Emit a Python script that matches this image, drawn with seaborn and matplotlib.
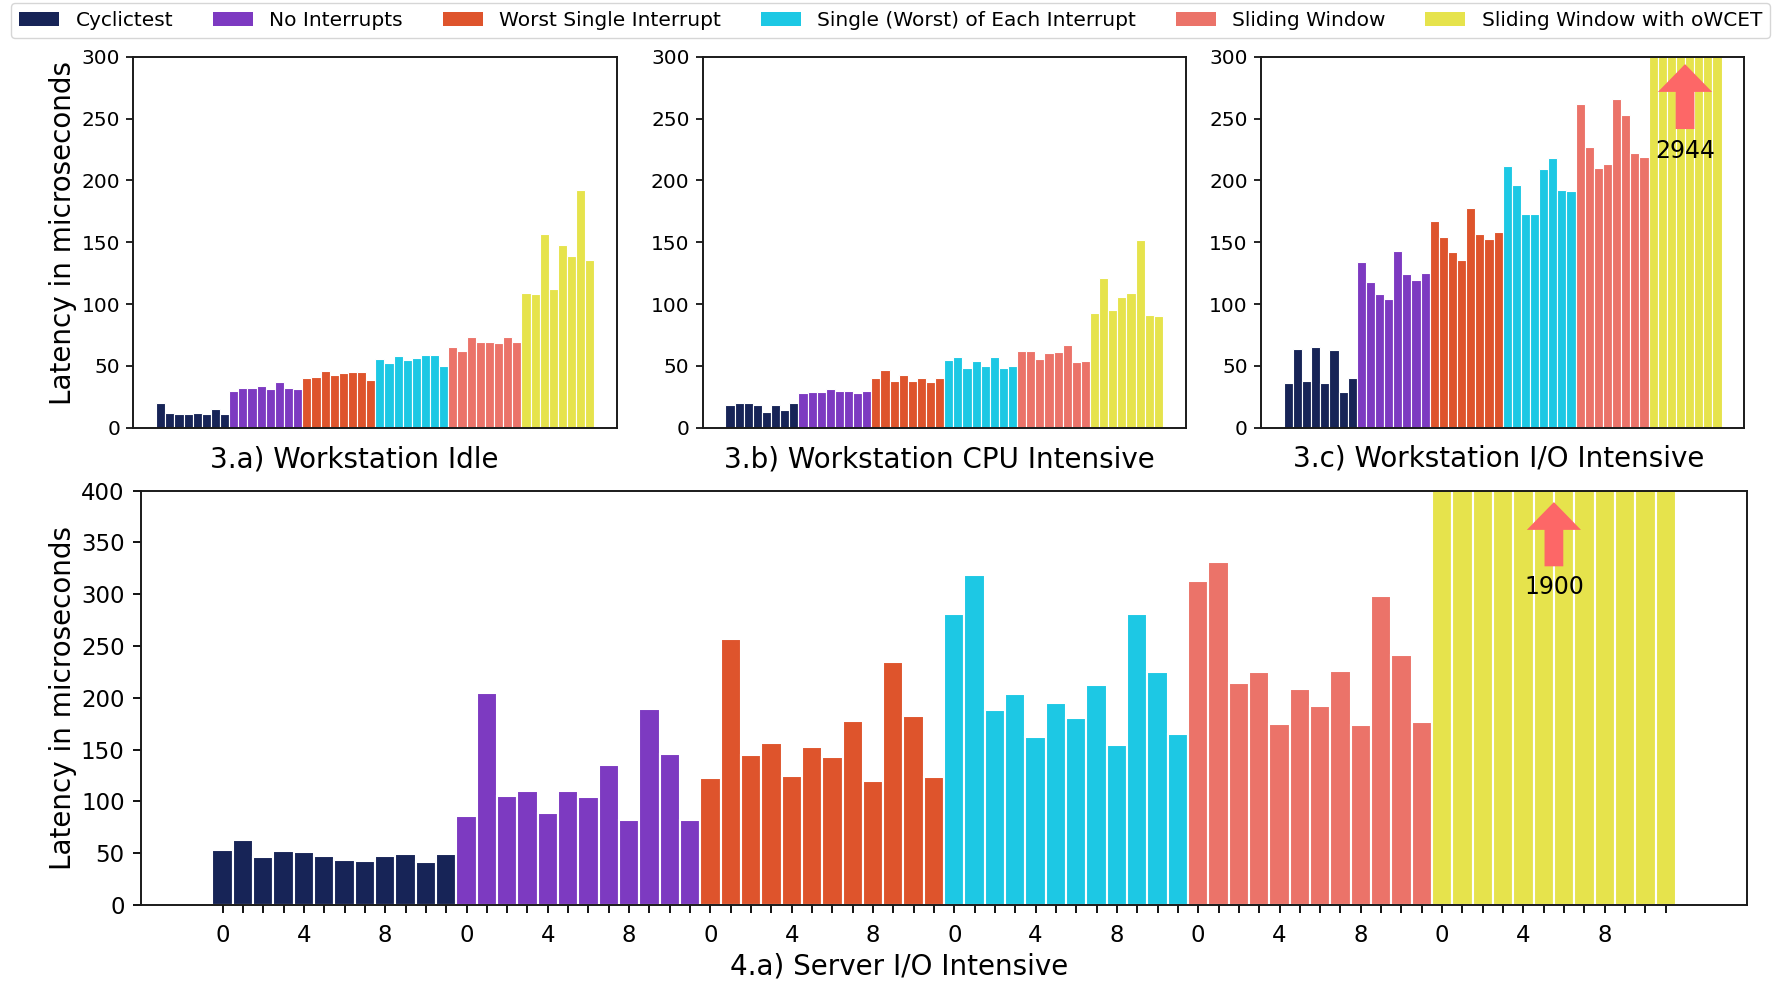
import matplotlib
matplotlib.use("Agg")
import matplotlib.pyplot as plt
import pandas as pd
import seaborn as sns
from matplotlib.patches import Patch

# ---------------- data ----------------
series_names = ["Cyclictest", "No Interrupts", "Worst Single Interrupt",
                "Single (Worst) of Each Interrupt", "Sliding Window",
                "Sliding Window with oWCET"]
series_colors = ["#172457", "#7d3ac1", "#de542c", "#1dc8e4", "#eb7369", "#e6e34c"]

# 3.a) Workstation Idle
idle_cyclictest = [20, 12, 11, 11, 12, 11, 15, 11]
idle_no_int = [30, 32, 32.5, 34, 31.5, 37, 32, 31]
idle_worst_single = [40, 41, 45.5, 42.5, 44, 45, 45, 38.5]
idle_single_each = [55.5, 52, 58, 55, 56.5, 58.5, 59, 49.5]
idle_sliding = [65, 62, 73.5, 69, 69, 68.5, 73, 69.5]
idle_owcet = [109, 108.5, 157, 112.5, 148, 138.5, 192, 136]

# 3.b) Workstation CPU Intensive
cpu_cyclictest = [18, 20, 20, 18.5, 13, 18, 14.5, 20]
cpu_no_int = [28, 28.5, 28.5, 31.5, 29.5, 30, 28, 29.5]
cpu_worst_single = [40.5, 46.5, 38, 42.5, 38, 40, 37, 40]
cpu_single_each = [54.5, 57, 48.5, 54, 50, 57, 48, 50]
cpu_sliding = [62, 62, 55.5, 60, 61, 67, 53, 54]
cpu_owcet = [93, 121, 95, 106, 109, 152, 91, 90]

# 3.c) Workstation I/O Intensive
io_cyclictest = [36.5, 63.5, 37.5, 65.5, 36.5, 63, 28.5, 40]
io_no_int = [134, 117.5, 108, 104, 143, 124, 119.5, 125]
io_worst_single = [167, 154.5, 142, 136, 177.5, 156.5, 152.5, 158]
io_single_each = [212, 196, 173, 173, 209, 218, 192.5, 191]
io_sliding = [261.5, 227, 210, 213, 265.5, 253, 222.5, 219]
io_owcet = [2944, 2944, 2944, 2944, 2944, 2944, 2944, 2944]

# 4.a) Server I/O Intensive
srv_cyclictest = [53.5, 62.5, 46.5, 52.5, 51.5, 47.5, 43.5, 42.5, 47.5, 49.5, 41.5, 49.5]
srv_no_int = [85.5, 205, 105, 110, 89, 110, 104, 135.5, 82, 189, 145.5, 82]
srv_worst_single = [123, 256.5, 144.5, 156.5, 125, 153, 142.5, 178, 120, 234.5, 182.5, 124]
srv_single_each = [281, 319, 188, 203.5, 162, 195.5, 181, 212.5, 154, 280.5, 224.5, 165.5]
srv_sliding = [313, 331, 214, 224.5, 174.5, 208.5, 192, 226, 173.5, 298, 241.5, 176.5]
srv_owcet = [1900, 1900, 1900, 1900, 1900, 1900, 1900, 1900, 1900, 1900, 1900, 1900]

top_titles = ["3.a) Workstation Idle", "3.b) Workstation CPU Intensive",
              "3.c) Workstation I/O Intensive"]
bottom_title = "4.a) Server I/O Intensive"
group_tick_labels = ["0", "", "", "", "4", "", "", "", "8", "", "", ""]
top_yticks = [0, 50, 100, 150, 200, 250, 300]
bottom_yticks = [0, 50, 100, 150, 200, 250, 300, 350, 400]
ylabel = "Latency in microseconds"


def build_frame(groups):
    rows = []
    pos = 0
    for name, vals in zip(series_names, groups):
        for v in vals:
            rows.append({"pos": pos, "latency": v, "series": name})
            pos += 1
    return pd.DataFrame(rows)


def draw(ax, df, lw):
    sns.barplot(data=df, x="pos", y="latency", hue="series",
                hue_order=series_names, palette=series_colors,
                dodge=False, width=1.0, saturation=1,
                edgecolor="white", linewidth=lw, legend=False, ax=ax)


plt.rcParams.update({
    "axes.linewidth": 1.4,
    "axes.edgecolor": "#1a1a1a",
    "font.family": ["DejaVu Sans"],
})

W, H = 1773, 981
fig = plt.figure(figsize=(W / 100, H / 100), dpi=100)


def fig_axes(left, top, right, bottom):
    return fig.add_axes([left / W, 1 - bottom / H, (right - left) / W, (bottom - top) / H])


top_frames = [
    build_frame([idle_cyclictest, idle_no_int, idle_worst_single, idle_single_each, idle_sliding, idle_owcet]),
    build_frame([cpu_cyclictest, cpu_no_int, cpu_worst_single, cpu_single_each, cpu_sliding, cpu_owcet]),
    build_frame([io_cyclictest, io_no_int, io_worst_single, io_single_each, io_sliding, io_owcet]),
]
top_boxes = [(133.3, 56.7, 617.3, 427.7), (702.7, 56.7, 1185.7, 427.7), (1261, 56.7, 1744.3, 427.7)]
title_x = [0.456, 0.491, 0.492]
title_y = [-0.049, -0.049, -0.044]

top_axes = []
for i, (df, box) in enumerate(zip(top_frames, top_boxes)):
    ax = fig_axes(*box)
    draw(ax, df, 0.8)
    ax.set_xlim(-3, 50)
    ax.set_ylim(0, 300)
    ax.set_xticks([])
    ax.set_yticks(top_yticks)
    ax.tick_params(axis="y", labelsize=14.5, length=5, width=1.2, pad=4.5)
    ax.set_xlabel(top_titles[i], fontsize=20)
    ax.xaxis.set_label_coords(title_x[i], title_y[i])
    ax.set_ylabel(ylabel if i == 0 else "", fontsize=20)
    top_axes.append(ax)

top_axes[0].yaxis.set_label_coords(-0.116, 0.525)

# arrow + label for clipped oWCET bars (3.c)
ax3c = top_axes[2]
arrow_props = dict(arrowstyle="simple,head_width=39,head_length=20,tail_width=13.5",
                   mutation_scale=1, color="#fd6767", shrinkA=0, shrinkB=0, lw=0)
ax3c.annotate("", xy=(43.5, 294), xytext=(43.5, 241.5), arrowprops=arrow_props)
ax3c.text(43.5, 223.5, "2944", ha="center", va="center", fontsize=17)

# bottom panel
df_srv = build_frame([srv_cyclictest, srv_no_int, srv_worst_single, srv_single_each, srv_sliding, srv_owcet])
axb = fig_axes(141.3, 490.7, 1747, 905)
draw(axb, df_srv, 1.5)
axb.set_xlim(-4, 75)
axb.set_ylim(0, 400)
n = len(df_srv)
axb.set_xticks(range(n))
axb.set_xticklabels([group_tick_labels[i % len(group_tick_labels)] for i in range(n)])
axb.set_yticks(bottom_yticks)
axb.tick_params(axis="both", labelsize=16.5, length=6, width=1.3, pad=6)
axb.tick_params(axis="x", pad=8)
axb.set_xlabel(bottom_title, fontsize=20)
axb.xaxis.set_label_coords(0.472, -0.115)
axb.set_ylabel(ylabel, fontsize=20)
axb.yaxis.set_label_coords(-0.040, 0.5)
axb.annotate("", xy=(65.5, 389), xytext=(65.5, 327), arrowprops=arrow_props)
axb.text(65.5, 307.5, "1900", ha="center", va="center", fontsize=17)

handles = [Patch(facecolor=c, label=nm) for nm, c in zip(series_names, series_colors)]
fig.legend(handles=handles, loc="upper left", ncol=6, mode="expand",
           bbox_to_anchor=(11 / W, 0, (1770 - 11) / W, 1 - 3 / H),
           borderaxespad=0, fontsize=14.5, handlelength=2.0, frameon=True)

fig.savefig("out.png", dpi=100)
